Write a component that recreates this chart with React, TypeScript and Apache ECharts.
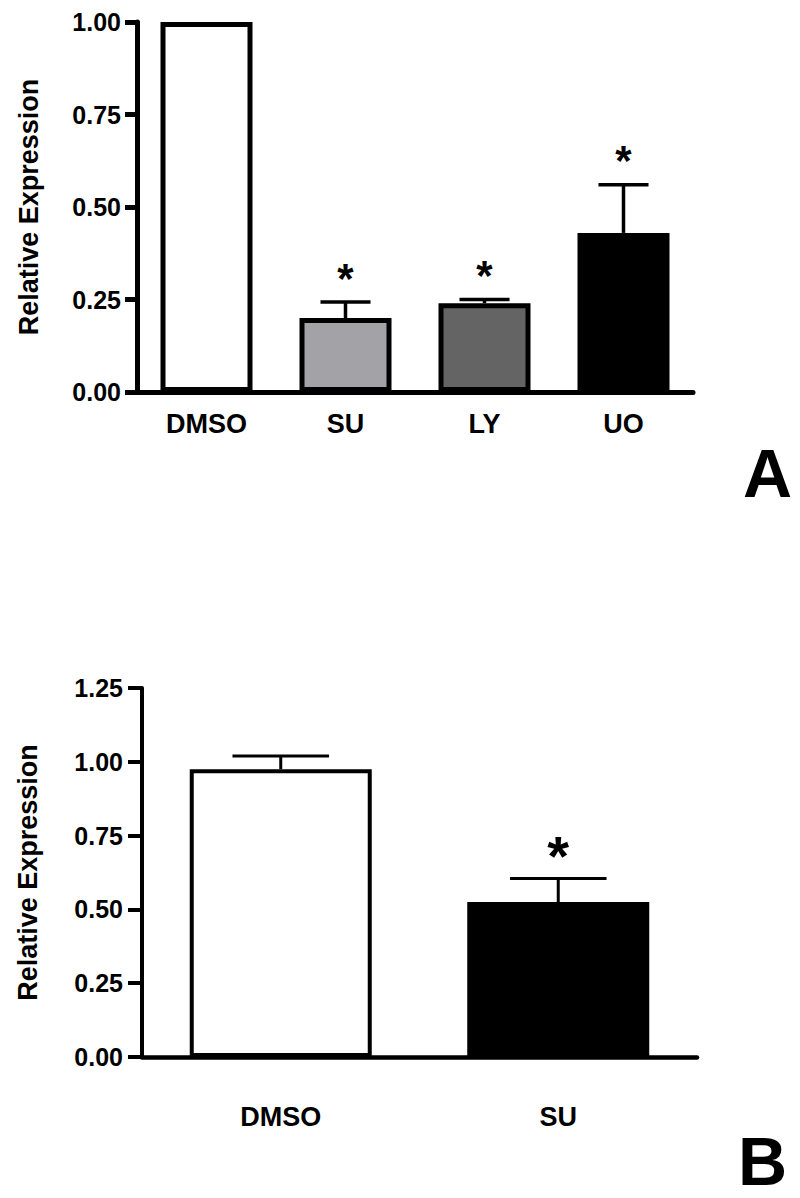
import React, { useEffect, useRef } from "react";
import * as echarts from "echarts";

const catsA = ["DMSO", "SU", "LY", "UO"];
const valsA = [1.0, 0.2, 0.24, 0.43];
const errsA = [0, 0.043, 0.01, 0.13];
const sigA = [0, 1, 1, 1];
const fillA = ["#ffffff", "#a2a2a7", "#646464", "#000000"];

const catsB = ["DMSO", "SU"];
const valsB = [0.975, 0.525];
const errsB = [0.045, 0.08];
const sigB = [0, 1];
const fillB = ["#ffffff", "#000000"];

const FONT = "'Liberation Sans', Arial, Helvetica, sans-serif";

function errSeries(gridIdx: number, vals: number[], errs: number[], sig: number[], lw: number, capFrac: number, starSize: number, starOff: number) {
  return {
    type: "custom",
    xAxisIndex: gridIdx,
    yAxisIndex: gridIdx,
    z: 5,
    encode: { x: 0, y: 1 },
    data: vals.map((v, i) => [i, v, errs[i], sig[i]]),
    renderItem: (params: any, api: any) => {
      const i = api.value(0);
      const v = api.value(1);
      const e = api.value(2);
      const s = api.value(3);
      const base = api.coord([i, v]);
      const top = api.coord([i, v + e]);
      const half = api.size([1, 0])[0] * capFrac;
      const children: any[] = [];
      if (e > 0) {
        children.push({
          type: "line",
          shape: { x1: top[0], y1: base[1], x2: top[0], y2: top[1] },
          style: { stroke: "#000", lineWidth: lw },
        });
        children.push({
          type: "line",
          shape: { x1: top[0] - half, y1: top[1], x2: top[0] + half, y2: top[1] },
          style: { stroke: "#000", lineWidth: lw },
        });
      }
      if (s) {
        children.push({
          type: "text",
          x: top[0],
          y: top[1] - starOff,
          style: {
            text: "*",
            fontSize: starSize,
            fontWeight: "bold",
            fontFamily: FONT,
            fill: "#000",
            align: "center",
            verticalAlign: "middle",
          },
        });
      }
      return { type: "group", children };
    },
  };
}

export default function App() {
  const ref = useRef<HTMLDivElement>(null);
  useEffect(() => {
    const chart = echarts.init(ref.current!, null, { renderer: "svg" });
    const yAxisCommon = (max: number, lw: number, tl: number, lm: number, gap: number) => ({
      type: "value",
      min: 0,
      max,
      interval: 0.25,
      name: "Relative Expression",
      nameLocation: "middle",
      nameRotate: 90,
      nameGap: gap,
      nameTextStyle: { fontSize: 27, fontWeight: "bold", fontFamily: FONT, color: "#000" },
      axisLine: { show: true, lineStyle: { color: "#000", width: lw } },
      axisTick: { show: true, length: tl, lineStyle: { color: "#000", width: lw } },
      axisLabel: {
        margin: lm,
        fontSize: 25,
        fontWeight: "bold",
        fontFamily: FONT,
        color: "#000",
        formatter: (v: number) => v.toFixed(2),
      },
      splitLine: { show: false },
    });
    const xAxisCommon = (cats: string[], lw: number, lm: number) => ({
      type: "category",
      data: cats,
      axisLine: { show: true, lineStyle: { color: "#000", width: lw } },
      axisTick: { show: false },
      axisLabel: {
        margin: lm,
        fontSize: 27,
        fontWeight: "bold",
        fontFamily: FONT,
        color: "#000",
        interval: 0,
      },
      splitLine: { show: false },
    });
    chart.setOption({
      animation: false,
      backgroundColor: "#ffffff",
      grid: [
        { left: 137, top: 22, width: 556, height: 370 },
        { left: 142, top: 688, width: 555, height: 369 },
      ],
      xAxis: [
        { ...xAxisCommon(catsA, 5, 18), gridIndex: 0 },
        { ...xAxisCommon(catsB, 4.5, 46), gridIndex: 1 },
      ],
      yAxis: [
        { ...yAxisCommon(1, 5, 12, 16, 95), gridIndex: 0 },
        { ...yAxisCommon(1.25, 4, 14, 19, 101), gridIndex: 1 },
      ],
      series: [
        {
          type: "bar",
          xAxisIndex: 0,
          yAxisIndex: 0,
          barWidth: 92,
          data: valsA.map((v, i) => ({
            value: v,
            itemStyle: { color: fillA[i], borderColor: "#000", borderWidth: 5 },
          })),
        },
        {
          type: "bar",
          xAxisIndex: 1,
          yAxisIndex: 1,
          barWidth: 182,
          data: valsB.map((v, i) => ({
            value: v,
            itemStyle: { color: fillB[i], borderColor: "#000", borderWidth: 4 },
          })),
        },
        errSeries(0, valsA, errsA, sigA, 3.5, 0.18, 42, 24),
        errSeries(1, valsB, errsB, sigB, 3, 0.174, 56, 23),
      ],
      graphic: [
        {
          type: "text",
          x: 743,
          y: 473,
          style: { text: "A", fontSize: 68, fontWeight: "bold", fontFamily: FONT, fill: "#000", align: "left", verticalAlign: "middle" },
        },
        {
          type: "text",
          x: 738,
          y: 1161,
          style: { text: "B", fontSize: 68, fontWeight: "bold", fontFamily: FONT, fill: "#000", align: "left", verticalAlign: "middle" },
        },
      ],
    });
    return () => chart.dispose();
  }, []);
  return (
    <div
      ref={ref}
      style={{ position: "absolute", left: 0, top: 0, width: 800, height: 1198, background: "#fff" }}
    />
  );
}
